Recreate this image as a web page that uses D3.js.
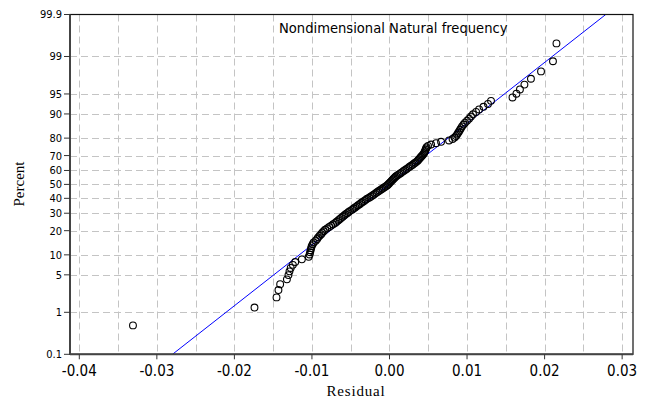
<!DOCTYPE html>
<html lang="en">
<head>
<meta charset="UTF-8" />
<title>Nondimensional Natural frequency - normal probability plot</title>
<script src="https://cdn.jsdelivr.net/npm/d3@7"></script>
<style>
  body { margin: 0; background: #fff; }
  text { fill: #000; }
</style>
</head>
<body>
<svg width="647" height="400"></svg>
<script>
  // residuals, sorted ascending (one per plotted circle)
  const residuals = [
    -0.03308, -0.01741, -0.01457, -0.01432, -0.01410, -0.01323, -0.01303, -0.01290, -0.01274, -0.01246,
    -0.01216, -0.01130, -0.01042, -0.01030, -0.01023, -0.01017, -0.01010, -0.01004, -0.00991, -0.00978,
    -0.00952, -0.00933, -0.00920, -0.00901, -0.00881, -0.00868, -0.00849, -0.00830, -0.00804, -0.00778,
    -0.00752, -0.00727, -0.00701, -0.00682, -0.00662, -0.00643, -0.00624, -0.00604, -0.00585, -0.00566,
    -0.00546, -0.00527, -0.00508, -0.00482, -0.00463, -0.00443, -0.00424, -0.00405, -0.00385, -0.00366,
    -0.00347, -0.00327, -0.00308, -0.00289, -0.00263, -0.00244, -0.00224, -0.00205, -0.00186, -0.00166,
    -0.00147, -0.00128, -0.00108, -0.00089, -0.00070, -0.00050, -0.00031, -0.00018, -0.00005, 0.00008,
    0.00021, 0.00034, 0.00046, 0.00059, 0.00072, 0.00085, 0.00104, 0.00124, 0.00143, 0.00162,
    0.00182, 0.00201, 0.00220, 0.00240, 0.00259, 0.00278, 0.00298, 0.00317, 0.00336, 0.00356,
    0.00369, 0.00381, 0.00394, 0.00407, 0.00420, 0.00433, 0.00446, 0.00452, 0.00459, 0.00465,
    0.00472, 0.00478, 0.00497, 0.00536, 0.00600, 0.00665, 0.00768, 0.00813, 0.00839, 0.00858,
    0.00871, 0.00884, 0.00897, 0.00910, 0.00923, 0.00936, 0.00955, 0.00974, 0.01000, 0.01026,
    0.01051, 0.01077, 0.01116, 0.01155, 0.01212, 0.01270, 0.01309, 0.01586, 0.01637, 0.01682,
    0.01740, 0.01824, 0.01954, 0.02108, 0.02153
  ];

  const percentTicks = [0.1, 1, 5, 10, 20, 30, 40, 50, 60, 70, 80, 90, 95, 99, 99.9];
  const residualTicks = [-0.04, -0.03, -0.02, -0.01, 0, 0.01, 0.02, 0.03];
  const residualGrid = [-0.04, -0.035, -0.03, -0.025, -0.02, -0.015, -0.01, -0.005, 0,
                        0.005, 0.01, 0.015, 0.02, 0.025, 0.03];

  // fitted normal line (mean, standard deviation)
  const fitMean = -0.00005;
  const fitSd = 0.00904;

  const title = "Nondimensional Natural frequency";

  // inverse standard normal CDF (Acklam)
  function probit(p) {
    const a = [-3.969683028665376e+01, 2.209460984245205e+02, -2.759285104469687e+02,
               1.383577518672690e+02, -3.066479806614716e+01, 2.506628277459239e+00];
    const b = [-5.447609879822406e+01, 1.615858368580409e+02, -1.556989798598866e+02,
               6.680131188771972e+01, -1.328068155288572e+01];
    const c = [-7.784894002430293e-03, -3.223964580411365e-01, -2.400758277161838e+00,
               -2.549732539343734e+00, 4.374664141464968e+00, 2.938163982698783e+00];
    const d = [7.784695709041462e-03, 3.224671290700398e-01, 2.445134137142996e+00,
               3.754408661907416e+00];
    const plow = 0.02425;
    let q, r;
    if (p < plow) {
      q = Math.sqrt(-2 * Math.log(p));
      return (((((c[0]*q+c[1])*q+c[2])*q+c[3])*q+c[4])*q+c[5]) / ((((d[0]*q+d[1])*q+d[2])*q+d[3])*q+1);
    }
    if (p > 1 - plow) {
      q = Math.sqrt(-2 * Math.log(1 - p));
      return -(((((c[0]*q+c[1])*q+c[2])*q+c[3])*q+c[4])*q+c[5]) / ((((d[0]*q+d[1])*q+d[2])*q+d[3])*q+1);
    }
    q = p - 0.5; r = q * q;
    return (((((a[0]*r+a[1])*r+a[2])*r+a[3])*r+a[4])*r+a[5])*q / (((((b[0]*r+b[1])*r+b[2])*r+b[3])*r+b[4])*r+1);
  }

  const svg = d3.select("svg");
  const plotLeft = 70, plotRight = 633, plotTop = 14.5, plotBottom = 354.3;
  const zMax = probit(0.999);

  const x = d3.scaleLinear().domain([-0.0412, 0.0314]).range([plotLeft, plotRight]);
  const z = d3.scaleLinear().domain([-zMax, zMax]).range([plotBottom, plotTop]);
  const y = pct => z(probit(pct / 100));

  const tickFont = "'DejaVu Sans Condensed', 'DejaVu Sans', sans-serif";

  // grid
  const grid = svg.append("g")
      .attr("stroke", "#c4c4c4")
      .attr("stroke-width", 1)
      .attr("stroke-dasharray", "7,4");

  grid.selectAll("line.v")
    .data(residualGrid)
    .join("line")
      .attr("class", "v")
      .attr("x1", d => Math.round(x(d)) + 0.5).attr("x2", d => Math.round(x(d)) + 0.5)
      .attr("y1", plotTop).attr("y2", plotBottom);

  grid.selectAll("line.h")
    .data(percentTicks.slice(1, -1))
    .join("line")
      .attr("class", "h")
      .attr("y1", d => Math.round(y(d)) + 0.5).attr("y2", d => Math.round(y(d)) + 0.5)
      .attr("x1", plotLeft).attr("x2", plotRight);

  // fitted line, clipped to the plot
  svg.append("clipPath").attr("id", "plot")
    .append("rect").attr("x", plotLeft).attr("y", plotTop)
      .attr("width", plotRight - plotLeft).attr("height", plotBottom - plotTop);

  const zLine = [-zMax, zMax];
  svg.append("path")
      .attr("clip-path", "url(#plot)")
      .attr("fill", "none")
      .attr("stroke", "#0000ff")
      .attr("stroke-width", 1)
      .attr("d", d3.line()
        .x(d => x(fitMean + fitSd * d))
        .y(d => z(d))(zLine));

  // points at median-rank plotting positions
  const n = residuals.length;
  svg.append("g")
    .selectAll("circle")
    .data(residuals)
    .join("circle")
      .attr("cx", d => x(d))
      .attr("cy", (d, i) => z(probit((i + 1 - 0.3) / (n + 0.4))))
      .attr("r", 3.4)
      .attr("fill", "none")
      .attr("stroke", "#000")
      .attr("stroke-width", 1.1);

  // frame
  svg.append("rect")
      .attr("x", plotLeft).attr("y", plotTop)
      .attr("width", plotRight - plotLeft).attr("height", plotBottom - plotTop)
      .attr("fill", "none")
      .attr("stroke", "#111")
      .attr("stroke-width", 1.2);
  svg.append("line")
      .attr("x1", plotLeft).attr("x2", plotLeft).attr("y1", plotTop).attr("y2", plotBottom + 0.5)
      .attr("stroke", "#444").attr("stroke-width", 2);
  svg.append("line")
      .attr("x1", plotLeft).attr("x2", plotRight).attr("y1", plotBottom).attr("y2", plotBottom)
      .attr("stroke", "#444").attr("stroke-width", 2);

  // y axis ticks + labels
  const yAxis = svg.append("g");
  yAxis.selectAll("line")
    .data(percentTicks)
    .join("line")
      .attr("x1", plotLeft - 6).attr("x2", plotLeft)
      .attr("y1", d => y(d)).attr("y2", d => y(d))
      .attr("stroke", "#333").attr("stroke-width", 1);
  yAxis.selectAll("text")
    .data(percentTicks)
    .join("text")
      .attr("x", plotLeft - 8)
      .attr("y", d => y(d))
      .attr("dy", "0.36em")
      .attr("text-anchor", "end")
      .attr("font-family", tickFont)
      .attr("font-size", 11)
      .text(d => d);

  // x axis ticks + labels
  const xAxis = svg.append("g");
  xAxis.selectAll("line")
    .data(residualTicks)
    .join("line")
      .attr("x1", d => x(d)).attr("x2", d => x(d))
      .attr("y1", plotBottom).attr("y2", plotBottom + 5)
      .attr("stroke", "#333").attr("stroke-width", 1);
  xAxis.selectAll("text")
    .data(residualTicks)
    .join("text")
      .attr("x", d => x(d))
      .attr("y", 376)
      .attr("text-anchor", "middle")
      .attr("font-family", tickFont)
      .attr("font-size", 15)
      .text(d => d3.format(".2f")(d).replace("−", "-"));

  // axis titles
  svg.append("text")
      .attr("x", 356).attr("y", 396)
      .attr("text-anchor", "middle")
      .attr("font-family", "'Liberation Serif', 'DejaVu Serif', serif")
      .attr("font-size", 15)
      .attr("letter-spacing", 0.8)
      .text("Residual");
  svg.append("text")
      .attr("transform", "translate(24,184) rotate(-90)")
      .attr("text-anchor", "middle")
      .attr("font-family", "'Liberation Serif', 'DejaVu Serif', serif")
      .attr("font-size", 15)
      .text("Percent");

  // chart title inside the plot
  svg.append("text")
      .attr("x", 279).attr("y", 33)
      .attr("font-family", tickFont)
      .attr("font-size", 14.6)
      .text(title);
</script>
</body>
</html>
